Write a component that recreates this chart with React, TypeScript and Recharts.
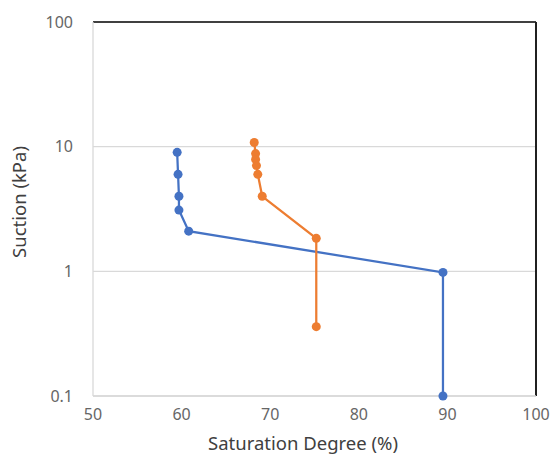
import { ScatterChart, Scatter, XAxis, YAxis, CartesianGrid, ReferenceLine } from "recharts";

const blueSaturation = [59.5, 59.6, 59.7, 59.7, 60.8, 89.5, 89.5];
const blueSuction = [9, 6, 4, 3.1, 2.1, 0.98, 0.1];
const orangeSaturation = [68.2, 68.35, 68.35, 68.45, 68.6, 69.1, 75.2, 75.2];
const orangeSuction = [10.8, 8.8, 7.9, 7.05, 6, 4, 1.84, 0.36];
const xTicks = [50, 60, 70, 80, 90, 100];
const yTicks = [0.1, 1, 10, 100];

const font = "'Noto Sans', sans-serif";
const blue = "#4472C4";
const orange = "#ED7D31";

const toPoints = (xs: number[], ys: number[]) => xs.map((x, i) => ({ x, y: ys[i] }));
const blueData = toPoints(blueSaturation, blueSuction);
const orangeData = toPoints(orangeSaturation, orangeSuction);

const dot = (color: string) => (props: any) =>
  <circle cx={props.cx} cy={props.cy} r={4.5} fill={color} />;

export default function App() {
  return (
    <div style={{ position: "absolute", left: 0, top: 0, width: 552, height: 461, background: "#fff", fontFamily: font }}>
      <ScatterChart width={552} height={461} margin={{ top: 22, right: 16, bottom: 0, left: 0 }}>
        <CartesianGrid horizontal={true} vertical={false} stroke="#D9D9D9" strokeWidth={1.3} />
        <XAxis
          type="number"
          dataKey="x"
          domain={[50, 100]}
          ticks={xTicks}
          height={65}
          stroke="#D9D9D9"
          strokeWidth={1.3}
          tickLine={false}
          tick={{ fill: "#666666", fontSize: 16, fontFamily: font }}
          tickMargin={7}
          label={{
            content: () => (
              <text x={303} y={450} textAnchor="middle" fill="#404040" fontSize={18.5} fontFamily={font}>
                Saturation Degree (%)
              </text>
            ),
          }}
        />
        <YAxis
          type="number"
          dataKey="y"
          scale="log"
          domain={[0.1, 100]}
          ticks={yTicks}
          width={93}
          stroke="#D9D9D9"
          strokeWidth={1.3}
          tickLine={false}
          tick={{ fill: "#666666", fontSize: 16, fontFamily: font }}
          tickMargin={14}
          tickFormatter={(v: number) => String(v)}
          label={{
            content: () => (
              <text x={26} y={202} transform="rotate(-90 26 202)" textAnchor="middle" fill="#404040" fontSize={18.5} fontFamily={font}>
                Suction (kPa)
              </text>
            ),
          }}
        />
        <ReferenceLine y={100} stroke="#404040" strokeWidth={2} />
        <ReferenceLine x={100} stroke="#202020" strokeWidth={2} />
        <Scatter data={blueData} line={{ stroke: blue, strokeWidth: 2.25 }} shape={dot(blue)} fill={blue} isAnimationActive={false} />
        <Scatter data={orangeData} line={{ stroke: orange, strokeWidth: 2.25 }} shape={dot(orange)} fill={orange} isAnimationActive={false} />
      </ScatterChart>
    </div>
  );
}
